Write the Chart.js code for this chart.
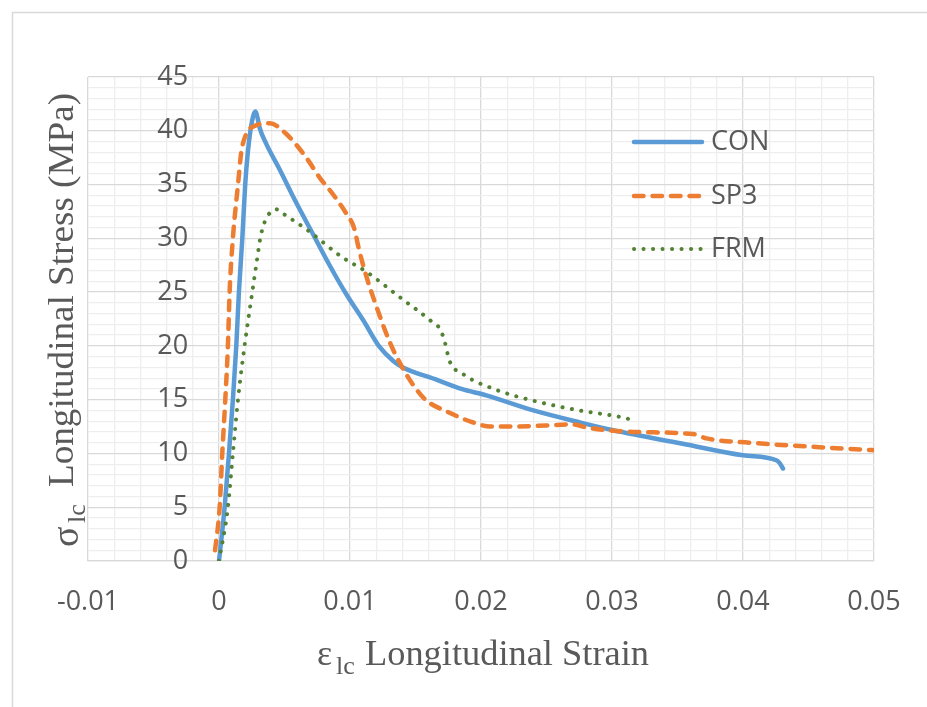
<!DOCTYPE html>
<html>
<head>
<meta charset="utf-8">
<script src="https://cdn.jsdelivr.net/npm/chart.js@4.4.0/dist/chart.umd.min.js"></script>
<style>
  body { margin: 0; background: #fff; }
</style>
</head>
<body>
<canvas id="chart" width="927" height="707"></canvas>
<script>
// values
const conStrain = [0, 0.00043, 0.00076, 0.00106, 0.00132, 0.00152, 0.00178, 0.0020, 0.0022, 0.0024, 0.00264, 0.0028,
  0.00297, 0.0031, 0.0036, 0.00463, 0.0059, 0.00717, 0.00844, 0.00972, 0.011, 0.01226, 0.0133, 0.01404, 0.0165,
  0.0185, 0.0204, 0.024, 0.0275, 0.0301, 0.0354, 0.040, 0.04254, 0.0428, 0.04305];
const conStress = [0, 5, 10, 15, 20, 25, 30, 35, 38, 40, 41.5, 41.8,
  41.05, 40.3, 38.8, 36.4, 33.3, 30.4, 27.5, 24.8, 22.4, 19.9, 18.6, 18.0, 16.9,
  16.0, 15.4, 14.0, 12.9, 12.15, 10.9, 9.83, 9.37, 9.1, 8.6];

const sp3Strain = [-0.0003, 0.00005, 0.00025, 0.00048, 0.00068, 0.00081, 0.00106, 0.00145, 0.0017, 0.00208, 0.00272,
  0.00386, 0.00514, 0.00666, 0.00768, 0.0087, 0.00972, 0.0103, 0.0107, 0.01124, 0.01215, 0.01305, 0.0139, 0.01486,
  0.01576, 0.01756, 0.01936, 0.0207, 0.0222, 0.0250, 0.027, 0.0281, 0.0316, 0.0362, 0.0372, 0.0405, 0.0456, 0.050];
const sp3Stress = [1.0, 5, 10, 15, 20, 25, 30, 35, 38, 39.7, 40.45,
  40.7, 39.7, 37.5, 35.65, 34.1, 32.3, 31.0, 28.9, 26.5, 23.2, 20.3, 18.2, 16.3,
  15.0, 13.8, 12.9, 12.5, 12.5, 12.6, 12.7, 12.4, 12.0, 11.8, 11.4, 11.0, 10.6, 10.3];

const frmStrain = [0, 0.00068, 0.00106, 0.00145, 0.00195, 0.00254, 0.0029, 0.00315, 0.00348, 0.00437, 0.00488,
  0.00666, 0.00946, 0.01124, 0.01394, 0.0162, 0.0169, 0.01725, 0.0176, 0.0186, 0.0212, 0.024, 0.0275, 0.0306, 0.0316];
const frmStress = [0, 5, 10, 15, 20, 25, 28, 30, 31.5, 32.7, 32.3,
  30.85, 28.2, 26.9, 24.4, 22.3, 21.5, 20.3, 18.6, 17.4, 15.9, 14.9, 14.0, 13.4, 13.1];

const seriesNames = ['CON', 'SP3', 'FRM'];
const xMajorTicks = [-0.01, 0, 0.01, 0.02, 0.03, 0.04, 0.05];
const yMajorTicks = [0, 5, 10, 15, 20, 25, 30, 35, 40, 45];

const textGrey = '#595959';
const tickFont = {family: '"Open Sans"', size: 27};
const serif = '"Liberation Serif"';
// the value axis sits just left of x = 0, like Excel's crossing axis with its labels
const yLabelAnchor = -0.00236;

function pairs(xs, ys) {
  return xs.map((x, i) => ({x: x, y: ys[i]}));
}
function majorOf(v, list) {
  return list.find(t => Math.abs(t - v) < 1e-9);
}
// draw text squeezed/stretched to a given width
function fitText(ctx, text, x, y, width) {
  const w = ctx.measureText(text).width;
  ctx.save();
  ctx.translate(x, y);
  ctx.scale(width / w, 1);
  ctx.fillText(text, 0, 0);
  ctx.restore();
}

const decor = {
  id: 'decor',
  beforeDraw(chart) {
    const ctx = chart.ctx;
    ctx.save();
    ctx.fillStyle = '#fff';
    ctx.fillRect(0, 0, chart.width, chart.height);
    ctx.strokeStyle = '#d9d9d9';
    ctx.lineWidth = 1.5;
    ctx.strokeRect(12.5, 12.5, chart.width, chart.height);
    ctx.restore();
  },
  afterDraw(chart) {
    const ctx = chart.ctx;
    ctx.save();
    ctx.fillStyle = textGrey;
    ctx.textBaseline = 'alphabetic';

    // x title
    ctx.font = '36px ' + serif;
    ctx.fillText('ε', 317, 665);
    ctx.font = '26px ' + serif;
    ctx.fillText('lc', 336, 674);
    ctx.font = '36px ' + serif;
    fitText(ctx, 'Longitudinal Strain', 365, 665, 284);

    // y title
    ctx.save();
    ctx.translate(73, 547);
    ctx.rotate(-Math.PI / 2);
    ctx.font = '38px ' + serif;
    ctx.fillText('σ', 0, 5);
    ctx.font = '26px ' + serif;
    ctx.fillText('lc', 24, 12);
    ctx.font = '36px ' + serif;
    fitText(ctx, 'Longitudinal Stress (MPa)', 60, 0, 394);
    ctx.restore();

    // legend
    const rows = [142, 196, 249];
    ctx.font = '27px "Open Sans"';
    ctx.textBaseline = 'middle';
    chart.data.datasets.forEach((ds, i) => {
      const y = rows[i];
      ctx.save();
      ctx.strokeStyle = ds.borderColor;
      ctx.lineWidth = ds.borderWidth;
      ctx.lineCap = 'round';
      ctx.setLineDash(ds.borderDash || []);
      ctx.beginPath();
      ctx.moveTo(634, y);
      ctx.lineTo(702, y);
      ctx.stroke();
      ctx.restore();
      ctx.fillText(ds.label, 711, y);
    });
    ctx.restore();
  }
};

new Chart(document.getElementById('chart'), {
  type: 'line',
  data: {
    datasets: [
      {
        label: seriesNames[0],
        data: pairs(conStrain, conStress),
        borderColor: '#5B9BD5',
        borderWidth: 4.5,
        borderCapStyle: 'round',
        borderJoinStyle: 'round',
        order: 3
      },
      {
        label: seriesNames[1],
        data: pairs(sp3Strain, sp3Stress),
        borderColor: '#ED7D31',
        borderWidth: 4.5,
        borderDash: [9.5, 9],
        borderCapStyle: 'round',
        borderJoinStyle: 'round',
        order: 2
      },
      {
        label: seriesNames[2],
        data: pairs(frmStrain, frmStress),
        borderColor: '#548235',
        borderWidth: 4,
        borderDash: [0.1, 9.4],
        borderCapStyle: 'round',
        borderJoinStyle: 'round',
        order: 1
      }
    ]
  },
  options: {
    responsive: false,
    animation: false,
    cubicInterpolationMode: 'monotone',
    elements: {
      point: {radius: 0, hoverRadius: 0}
    },
    layout: {
      padding: {left: 88, top: 77, right: 53, bottom: 0}
    },
    plugins: {
      legend: {display: false},
      tooltip: {enabled: false}
    },
    scales: {
      x: {
        type: 'linear',
        min: -0.01,
        max: 0.05,
        afterFit(scale) { scale.height = 146; },
        ticks: {
          stepSize: 0.002,
          maxTicksLimit: 100,
          autoSkip: false,
          maxRotation: 0,
          padding: 25,
          color: textGrey,
          font: tickFont,
          callback: v => {
            const t = majorOf(v, xMajorTicks);
            return t === undefined ? '' : String(t);
          }
        },
        grid: {
          color: c => majorOf(c.tick.value, xMajorTicks) !== undefined ? '#d9d9d9' : '#eeeeee',
          lineWidth: 1.3,
          drawTicks: false
        },
        border: {color: '#d9d9d9', width: 1.3}
      },
      y: {
        type: 'linear',
        position: {x: yLabelAnchor},
        min: 0,
        max: 45,
        ticks: {
          stepSize: 1,
          maxTicksLimit: 100,
          autoSkip: false,
          color: textGrey,
          font: tickFont,
          callback: v => {
            const t = majorOf(v, yMajorTicks);
            return t === undefined ? '' : String(t);
          }
        },
        grid: {
          color: c => majorOf(c.tick.value, yMajorTicks) !== undefined ? '#d9d9d9' : '#eeeeee',
          lineWidth: 1.3,
          drawTicks: false
        },
        border: {display: false}
      }
    }
  },
  plugins: [decor]
});
</script>
</body>
</html>
